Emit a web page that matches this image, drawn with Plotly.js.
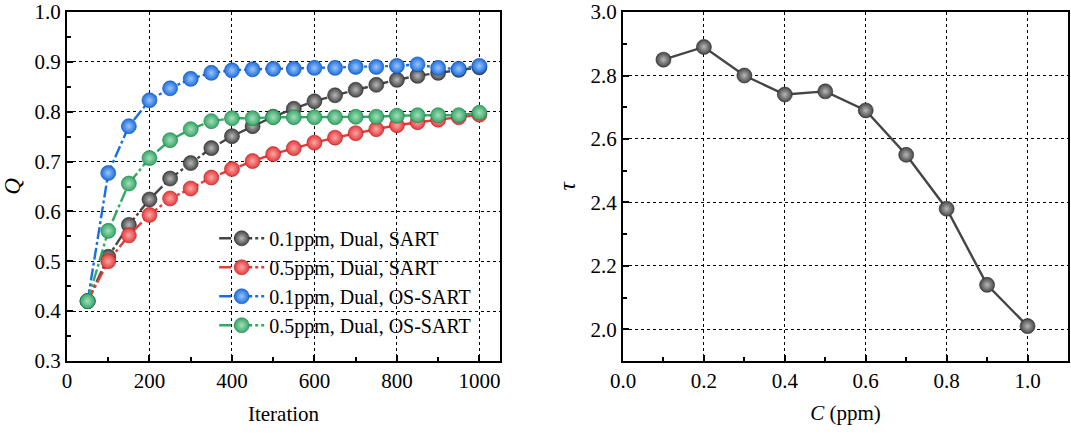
<!DOCTYPE html>
<html>
<head>
<meta charset="utf-8">
<script src="https://cdn.plot.ly/plotly-3.0.1.min.js"></script>
<style>html,body{margin:0;padding:0;background:#fff;}#chart{width:1071px;height:435px;}</style>
</head>
<body>
<div id="chart"></div>
<script>
const iterations = [50,100,150,200,250,300,350,400,450,500,550,600,650,700,750,800,850,900,950,1000];
const q01Sart   = [0.42,0.509,0.573,0.624,0.666,0.697,0.727,0.751,0.771,0.790,0.806,0.821,0.833,0.844,0.854,0.864,0.872,0.878,0.884,0.889];
const q05Sart   = [0.42,0.500,0.552,0.593,0.626,0.646,0.668,0.685,0.701,0.715,0.727,0.738,0.748,0.757,0.765,0.773,0.779,0.784,0.789,0.794];
const q01OsSart = [0.42,0.677,0.771,0.823,0.847,0.866,0.878,0.883,0.885,0.886,0.886,0.888,0.888,0.890,0.890,0.892,0.895,0.888,0.886,0.892];
const q05OsSart = [0.42,0.561,0.656,0.707,0.743,0.765,0.781,0.787,0.787,0.789,0.789,0.789,0.789,0.790,0.790,0.792,0.793,0.793,0.793,0.798];
const seriesNames = ['0.1ppm, Dual, SART','0.5ppm, Dual, SART','0.1ppm, Dual, OS-SART','0.5ppm, Dual, OS-SART'];
const concentration = [0.1,0.2,0.3,0.4,0.5,0.6,0.7,0.8,0.9,1.0];
const tau = [2.85,2.89,2.80,2.74,2.75,2.69,2.55,2.38,2.14,2.01];

const font = "'Liberation Serif', 'Times New Roman', Times, serif";
const colors = ['#454545','#e83838','#1a6ee0','#33a865'];
const edge = ['#2a2a2a','#b02020','#0f4fae','#1f7a46'];
const hi = ['#b8b8b8','#f8a8a8','#9cc4f6','#a6dcbc'];
const ys = [q01Sart,q05Sart,q01OsSart,q05OsSart];

const traces = ys.map((y,i)=>({
  x: iterations, y: y, name: seriesNames[i], type:'scatter', mode:'lines+markers',
  xaxis:'x', yaxis:'y',
  line:{color:colors[i], width:2.4, dash:'12px,3px,3px,3px'},
  marker:{size:15, color:colors[i], line:{color:edge[i], width:0.6},
          gradient:{type:'radial', color:hi[i]}}
}));
traces.push({
  x: concentration, y: tau, type:'scatter', mode:'lines+markers', showlegend:false,
  xaxis:'x2', yaxis:'y2',
  line:{color:'#454545', width:2.4},
  marker:{size:15, color:'#454545', line:{color:'#2a2a2a', width:0.6},
          gradient:{type:'radial', color:hi[0]}}
});

const axBase = {
  showline:true, mirror:true, linecolor:'#000', linewidth:2,
  ticks:'inside', ticklen:6, tickwidth:2, tickcolor:'#000',
  showgrid:true, gridcolor:'#000', gridwidth:1, griddash:'dot',
  zeroline:false, tickfont:{family:font, size:21, color:'#000'}, ticklabeloverflow:'allow',
  minor:{ticks:'inside', ticklen:4, tickwidth:2, tickcolor:'#000', showgrid:false}
};
const yDom = [74/435, 423/435];
const layout = {
  width:1071, height:435, paper_bgcolor:'#fff', plot_bgcolor:'#fff',
  margin:{l:0,r:0,t:0,b:0},
  font:{family:font, color:'#000'},
  showlegend:true,
  legend:{x:0.200, y:0.497, xanchor:'left', yanchor:'top', bgcolor:'rgba(0,0,0,0)',
          font:{family:font, size:20, color:'#000'}, itemwidth:45, tracegroupgap:0},
  xaxis: Object.assign({}, axBase, {domain:[67/1071, 500/1071], range:[0,1050], dtick:200, tick0:0,
          minor:Object.assign({}, axBase.minor, {dtick:100}),
          title:{text:'Iteration', font:{family:font, size:21}, standoff:14}, anchor:'y'}),
  yaxis: Object.assign({}, axBase, {domain:yDom, range:[0.2999,1.0001], dtick:0.1, tick0:0.3, tickformat:'.1f',
          minor:Object.assign({}, axBase.minor, {dtick:0.05}),
          title:{text:'<i>Q</i>', font:{family:font, size:23}, standoff:8}, anchor:'x'}),
  xaxis2: Object.assign({}, axBase, {domain:[623/1071, 1068/1071], range:[0,1.1], dtick:0.2, tick0:0, tickformat:'.1f',
          minor:Object.assign({}, axBase.minor, {dtick:0.1}),
          title:{text:'<i>C</i> (ppm)', font:{family:font, size:21}, standoff:13}, anchor:'y2'}),
  yaxis2: Object.assign({}, axBase, {domain:yDom, range:[1.9,3.0002], dtick:0.2, tick0:2.0, tickformat:'.1f',
          minor:Object.assign({}, axBase.minor, {dtick:0.1}),
          title:{text:'<i>τ</i>', font:{family:font, size:23}, standoff:8}, anchor:'x2'})
};
Plotly.newPlot('chart', traces, layout, {staticPlot:true, displayModeBar:false});
</script>
</body>
</html>
